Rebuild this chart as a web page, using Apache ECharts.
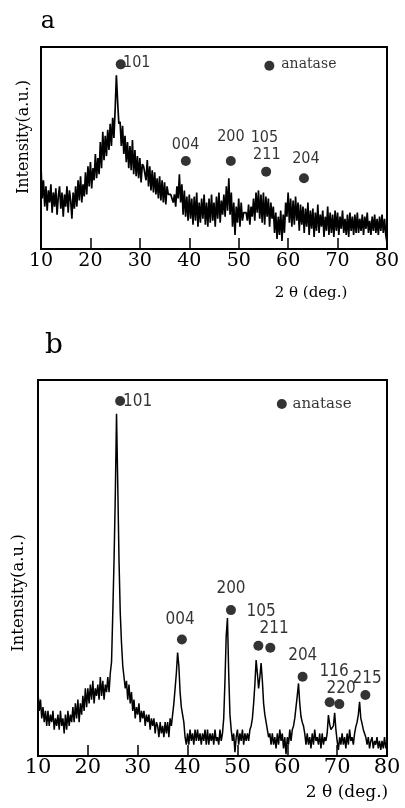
<!DOCTYPE html>
<html>
<head>
<meta charset="utf-8">
<script src="https://cdn.jsdelivr.net/npm/echarts@6/dist/echarts.min.js"></script>
<style>
html,body{margin:0;padding:0;background:#fff;}
#chart{width:405px;height:808px;}
</style>
</head>
<body>
<div id="chart"></div>
<script>
// ---- sampling grid (2θ, degrees) ----
const thetaStart = 10;
const thetaStep = 0.25;

// ---- panel a: intensity (a.u., 0-100 of plot height) ----
const intensityA = [
41,25,34,21, 31,19,29,23, 32,18,28,21, 30,17,26,31, 20,28,16,27,
21,31,18,29, 24,15,28,20, 31,21,34,24, 36,23,32,26, 38,27,41,31,
43,30,40,34, 47,35,45,37, 53,40,58,44, 56,46,59,49, 62,51,65,55,
69,86,73,62, 63,51,61,47, 56,43,53,40, 51,39,54,37, 49,36,46,35,
45,33,42,41, 41,34,44,31, 41,29,39,28, 38,27,35,25, 36,24,34,23,
33,22,31,27, 27,27,27,23, 27,21,31,25, 37,23,32,17, 29,16,26,14,
27,15,25,12, 26,14,28,11, 23,13,25,15, 27,12,23,11, 25,13,27,14,
23,11,26,15, 28,13,24,17, 27,16,31,19, 35,17,28,11, 23,7,21,13,
25,11,23,14, 18,18,18,14, 22,12,21,16, 25,14,28,18, 29,15,27,13,
28,12,26,16, 25,11,23,15, 21,8,18,5, 16,7,19,4, 17,8,23,16,
28,13,25,11, 24,12,26,14, 23,9,22,12, 21,8,20,11, 23,7,19,10,
20,6,18,9, 22,8,17,11, 19,6,16,9, 21,7,18,8, 17,6,19,9,
18,7,16,10, 19,8,15,7, 17,6,18,9, 16,7,17,8, 18,8,15,9,
17,7,16,10, 18,8,14,7, 16,9,17,8, 15,7,16,9, 17,8,15,7,
3
];

// ---- panel b: intensity (a.u., 0-100 of plot height) ----
const intensityB = [
17,12,15,10, 13,9,12,8, 12,8,11,9, 12,7,10,8, 11,7,12,8,
10,6,11,7, 12,8,11,9, 13,9,14,10, 15,9,14,11, 16,12,18,13,
18,14,19,15, 20,14,18,16, 19,15,21,16, 20,15,19,17, 21,17,22,25,
38,52,69,91, 72,52,38,30, 24,21,18,20, 15,19,14,17, 12,15,10,13,
11,14,9,12, 10,12,8,11, 9,11,7,10, 8,10,6,9, 8,5,9,6,
8,5,9,6, 9,5,10,8, 11,14,18,22, 27.5,24,17,13, 11,9,5,3,
6,3,7,4, 6,3,7,4, 7,4,6,3, 6,4,7,3, 7,3,6,4,
6,3,7,4, 5,3,7,4, 6,10,20,32, 36.7,22,11,7, 4,6,1,5,
7,3,6,4, 7,3,6,4, 6,4,7,8, 10,14,19,25.5, 22,18,21,24.7,
20,14,11,9, 7,5,6,3, 6,3,5,2, 6,3,7,4, 6,2,5,0.5,
5,3,7,4, 7,8,10,13, 16,19.3,14,10.5, 9,8,6,3, 6,3,5,2,
6,3,7,4, 5,3,6,2, 6,3,5,4, 6,10.9,8.5,7, 6.5,8,11.5,7,
4,1.6,5,3, 6,3,5,2, 6,3,7,4, 5,3,6,7.8, 9,11,14.4,10,
8.6,7,6,5, 3,5,2,4, 5,2,4,3, 5,2,4,1.6, 4,2,5,2,
4
];

// ---- axis ticks ----
const thetaTicks = [10, 20, 30, 40, 50, 60, 70, 80];

// ---- peak markers (anatase) ----
const dotsA_theta = [26.13, 39.3, 48.4, 55.55, 63.2, 56.2];
const dotsA_int   = [91.4, 43.6, 43.6, 38.3, 35.0, 90.7];
const dotsB_theta = [26.47, 38.86, 48.7, 54.2, 56.6, 63.07, 68.5, 70.44, 75.66, 58.9];
const dotsB_int   = [94.4, 31.0, 38.8, 29.3, 28.8, 21.1, 14.3, 13.8, 16.2, 93.6];

// ---- peak labels (hkl) ----
const labelsA_text  = ['101', '004', '200', '105', '211', '204'];
const labelsA_theta = [29.37, 39.25, 48.42, 55.2, 55.69, 63.6];
const labelsA_int   = [92.1, 51.5, 55.6, 55.0, 46.5, 44.6];
const labelsB_text  = ['101', '004', '200', '105', '211', '204', '116', '220', '215'];
const labelsB_theta = [29.98, 38.51, 48.71, 54.74, 57.35, 63.1, 69.38, 70.8, 76.0];
const labelsB_int   = [94.2, 36.2, 44.4, 38.4, 33.8, 26.6, 22.4, 17.9, 20.7];
const legendText = 'anatase';
const legendA = [64.19, 91.6];
const legendB = [66.97, 93.5];

function toXY(vals) {
  return vals.map((v, i) => [thetaStart + i * thetaStep, v]);
}
function pairs(xs, ys) { return xs.map((x, i) => [x, ys[i]]); }
function labelData(texts, xs, ys) {
  return texts.map((t, i) => ({ value: [xs[i], ys[i]], name: t }));
}

const chart = echarts.init(document.getElementById('chart'), null, { renderer: 'canvas' });

const serif = '"DejaVu Serif", "Liberation Serif", serif';
const narrow = '"Liberation Sans Narrow", "DejaVu Sans Condensed", "Arial Narrow", sans-serif';

function xAxisCfg(gi, fs, margin) {
  return {
    type: 'value', gridIndex: gi, min: 10, max: 80, interval: 10,
    axisLine: { show: false },
    axisTick: { show: true, inside: true, length: 11, lineStyle: { color: '#000', width: 1.5 } },
    axisLabel: {
      color: '#000', fontFamily: serif, fontSize: fs, margin: margin,
      formatter: v => thetaTicks.includes(v) ? String(v) : ''
    },
    splitLine: { show: false }
  };
}
function yAxisCfg(gi) {
  return {
    type: 'value', gridIndex: gi, min: 0, max: 100,
    axisLine: { show: false }, axisTick: { show: false },
    axisLabel: { show: false }, splitLine: { show: false }
  };
}
function labelSeries(gi, data, fs) {
  return {
    type: 'scatter', xAxisIndex: gi, yAxisIndex: gi, data: data,
    symbolSize: 1, itemStyle: { color: 'rgba(0,0,0,0)' }, silent: true,
    label: {
      show: true, position: 'inside', formatter: p => p.name,
      color: '#000', fontFamily: narrow, fontSize: fs
    }, z: 5
  };
}

const option = {
  animation: false,
  backgroundColor: '#fff',
  grid: [
    { left: 41, right: 18, top: 47, height: 202, show: true, borderColor: '#000', borderWidth: 2, backgroundColor: 'transparent' },
    { left: 38, right: 18, top: 380, height: 376, show: true, borderColor: '#000', borderWidth: 2, backgroundColor: 'transparent' }
  ],
  xAxis: [xAxisCfg(0, 19, 3), xAxisCfg(1, 21, 1)],
  yAxis: [yAxisCfg(0), yAxisCfg(1)],
  series: [
    { type: 'line', xAxisIndex: 0, yAxisIndex: 0, data: toXY(intensityA), showSymbol: false,
      lineStyle: { color: '#000', width: 1.7 }, silent: true },
    { type: 'line', xAxisIndex: 1, yAxisIndex: 1, data: toXY(intensityB), showSymbol: false,
      lineStyle: { color: '#000', width: 1.5 }, silent: true },
    { type: 'scatter', xAxisIndex: 0, yAxisIndex: 0, data: pairs(dotsA_theta, dotsA_int),
      symbolSize: 10, itemStyle: { color: '#000' }, silent: true },
    { type: 'scatter', xAxisIndex: 1, yAxisIndex: 1, data: pairs(dotsB_theta, dotsB_int),
      symbolSize: 10, itemStyle: { color: '#000' }, silent: true },
    labelSeries(0, labelData(labelsA_text, labelsA_theta, labelsA_int), 16),
    labelSeries(1, labelData(labelsB_text, labelsB_theta, labelsB_int), 17),
    {
      type: 'scatter', xAxisIndex: 0, yAxisIndex: 0, data: [{ value: legendA, name: legendText }],
      symbolSize: 1, itemStyle: { color: 'rgba(0,0,0,0)' }, silent: true,
      label: { show: true, position: 'inside', formatter: p => p.name, color: '#000', fontFamily: serif, fontSize: 14 }
    },
    {
      type: 'scatter', xAxisIndex: 1, yAxisIndex: 1, data: [{ value: legendB, name: legendText }],
      symbolSize: 1, itemStyle: { color: 'rgba(0,0,0,0)' }, silent: true,
      label: { show: true, position: 'inside', formatter: p => p.name, color: '#000', fontFamily: serif, fontSize: 15 }
    }
  ],
  graphic: [
    { type: 'text', x: 48, y: 22, style: { text: 'a', fill: '#000', font: '24px "DejaVu Serif"', align: 'center', verticalAlign: 'middle' } },
    { type: 'text', x: 54, y: 346, style: { text: 'b', fill: '#000', font: '28px "DejaVu Serif"', align: 'center', verticalAlign: 'middle' } },
    { type: 'text', x: 24, y: 137, rotation: Math.PI / 2, style: { text: 'Intensity(a.u.)', fill: '#000', font: '16px "DejaVu Serif"', align: 'center', verticalAlign: 'middle' } },
    { type: 'text', x: 19, y: 593, rotation: Math.PI / 2, style: { text: 'Intensity(a.u.)', fill: '#000', font: '16.5px "DejaVu Serif"', align: 'center', verticalAlign: 'middle' } },
    { type: 'text', x: 311, y: 293, style: { text: '2 θ (deg.)', fill: '#000', font: '15px "DejaVu Serif"', align: 'center', verticalAlign: 'middle' } },
    { type: 'text', x: 347, y: 793, style: { text: '2 θ (deg.)', fill: '#000', font: '17px "DejaVu Serif"', align: 'center', verticalAlign: 'middle' } }
  ]
};
chart.setOption(option);
</script>
</body>
</html>
